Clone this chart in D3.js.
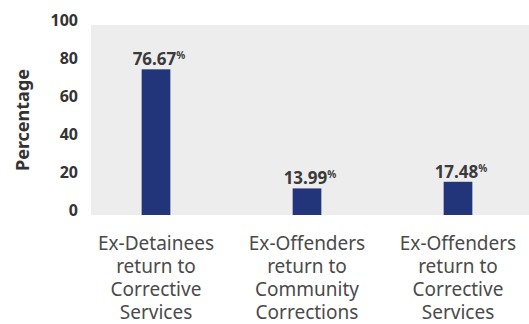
<!DOCTYPE html>
<html>
<head>
<meta charset="utf-8">
<script src="https://cdn.jsdelivr.net/npm/d3@7"></script>
<style>
  body { margin: 0; background: #fff; }
  svg { display: block; font-family: "Noto Sans", sans-serif; }
</style>
</head>
<body>
<div id="chart"></div>
<script>
const categories = [
    ["Ex-Detainees", "return to", "Corrective", "Services"],
    ["Ex-Offenders", "return to", "Community", "Corrections"],
    ["Ex-Offenders", "return to", "Corrective", "Services"]
];
const values = [76.67, 13.99, 17.48];
const yTicks = [0, 20, 40, 60, 80, 100];

const width = 529, height = 324;

const x = d3.scaleBand()
    .domain(d3.range(categories.length))
    .range([80.5, 533.5])
    .paddingInner(0.81)
    .paddingOuter(0.405);

const y = d3.scaleLinear()
    .domain([0, 100])
    .range([215, 25]);

const svg = d3.select("#chart")
    .append("svg")
    .attr("width", width)
    .attr("height", height);

// plot background
svg.append("rect")
    .attr("x", 91)
    .attr("y", y(100))
    .attr("width", width - 91)
    .attr("height", y(0) - y(100))
    .attr("fill", "#ededed");

// y axis labels
const yAxis = d3.axisLeft(y).tickValues(yTicks).tickSize(0).tickPadding(0);
const yg = svg.append("g")
    .attr("transform", "translate(78, -5)")
    .call(yAxis);
yg.select(".domain").remove();
yg.selectAll("text")
    .attr("font-size", 16)
    .attr("font-weight", "bold")
    .attr("font-family", "Noto Sans, sans-serif")
    .attr("fill", "#333");

svg.append("text")
    .attr("transform", "translate(29, 120) rotate(-90)")
    .attr("text-anchor", "middle")
    .attr("font-size", 18)
    .attr("font-weight", "bold")
    .attr("fill", "#333")
    .text("Percentage");

// bars
svg.selectAll(".bar")
    .data(values)
    .enter()
    .append("rect")
    .attr("class", "bar")
    .attr("x", (d, i) => x(i))
    .attr("y", d => y(d))
    .attr("width", x.bandwidth())
    .attr("height", d => y(0) - y(d))
    .attr("fill", "#22357a");

// value labels
const lbl = svg.selectAll(".val")
    .data(values)
    .enter()
    .append("text")
    .attr("class", "val")
    .attr("x", (d, i) => x(i) + x.bandwidth() / 2 + 3)
    .attr("y", d => y(d) - 4)
    .attr("text-anchor", "middle")
    .attr("font-weight", "bold")
    .attr("fill", "#3a3a3a");
lbl.append("tspan")
    .attr("font-size", 17)
    .text(d => d.toFixed(2));
lbl.append("tspan")
    .attr("font-size", 10)
    .attr("dy", -6)
    .text("%");

// category labels
const cat = svg.selectAll(".cat")
    .data(categories)
    .enter()
    .append("text")
    .attr("class", "cat")
    .attr("text-anchor", "middle")
    .attr("font-size", 19)
    .attr("fill", "#4a4a4a");
cat.selectAll("tspan")
    .data((d, i) => d.map(t => ({ t, i })))
    .enter()
    .append("tspan")
    .attr("x", d => x(d.i) + x.bandwidth() / 2)
    .attr("y", (d, j) => 250 + j * 23)
    .text(d => d.t);
</script>
</body>
</html>
